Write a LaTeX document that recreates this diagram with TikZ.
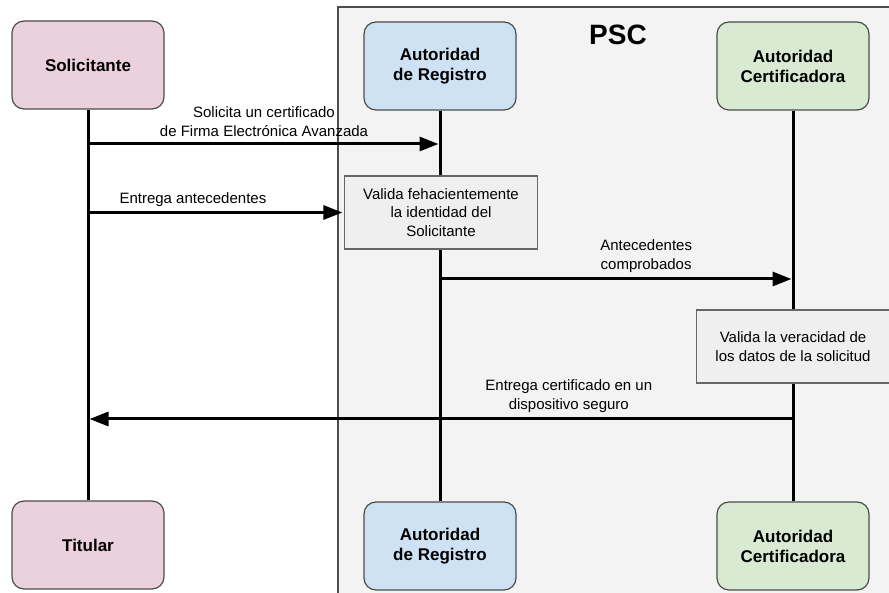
\documentclass[tikz,border=0pt]{standalone}
\usepackage{fontspec}
\setmainfont{Liberation Sans}
\usetikzlibrary{arrows.meta,calc,positioning}
\definecolor{solpink}{HTML}{EAD1DC}
\definecolor{regblue}{HTML}{CFE2F3}
\definecolor{certgreen}{HTML}{D9EAD3}
\definecolor{pscgray}{HTML}{F3F3F3}
\definecolor{notegray}{HTML}{EFEFEF}
\tikzstyle{actor}=[
  draw=black!70,
  font={\fontsize{17}{20}\selectfont\bfseries},
  inner sep=0pt,
  minimum height=88pt,
  minimum width=152pt,
  rectangle,
  rounded corners=12pt,
  align=center,
  line width=1.2pt,
]
\tikzstyle{note}=[
  draw=black!60,
  fill=notegray,
  font={\fontsize{15}{18.5}\selectfont},
  inner sep=0pt,
  minimum height=73pt,
  minimum width=193pt,
  rectangle,
  align=center,
  line width=1.2pt,
]
\tikzstyle{lifeline}=[
  line width=3pt,
]
\tikzstyle{msg}=[
  line width=3pt,
  shorten >=1.5pt,
  -{Triangle[length=19pt,width=14pt]},
]
\tikzstyle{msglabel}=[
  font={\fontsize{15}{18.5}\selectfont},
  align=center,
  inner sep=0pt,
]
\tikzset{
  x=1pt,
  y=-1pt,
}

\begin{document}
\begin{tikzpicture}
  \useasboundingbox (0,0) rectangle (889,593);
  %% PSC area
  \fill [pscgray] (338,7) rectangle (900,600);
  \draw [black!70, line width=1.2pt] (338,600) |- (900,7);
  \node (psc) [font={\fontsize{28}{30}\selectfont\bfseries}] at (618,35) {PSC};
  %%
  \node (solicitante) [actor, fill=solpink] at (88,65) {Solicitante};
  \node (regtop) [actor, fill=regblue] at (440,66) {Autoridad\\de Registro};
  \node (certtop) [actor, fill=certgreen] at (793,66) {Autoridad\\Certificadora};
  \node (titular) [actor, fill=solpink] at (88,545) {Titular};
  \node (regbot) [actor, fill=regblue] at (440,546) {Autoridad\\de Registro};
  \node (certbot) [actor, fill=certgreen] at (793,546) {Autoridad\\Certificadora};
  %%
  \draw [lifeline] (solicitante) -- (titular);
  \draw [lifeline] (regtop) -- (regbot);
  \draw [lifeline] (certtop) -- (certbot);
  %%
  \node (validaid) [note] at (441,212.5) {Valida fehacientemente\\la identidad del\\Solicitante};
  \node (validadatos) [note] at (793,346.5) {Valida la veracidad de\\los datos de la solicitud};
  %%
  \coordinate (row1) at (0,144);
  \coordinate (row3) at (0,279);
  \coordinate (row4) at (0,419);
  %%
  \draw [msg] (solicitante|-row1) -- node [msglabel, above=6pt] {Solicita un certificado\\de Firma Electrónica Avanzada} (regtop|-row1);
  \draw [msg] (solicitante|-validaid) -- node [msglabel, above=4pt, pos=.41] {Entrega antecedentes} (validaid);
  \draw [msg] (regtop|-row3) -- node [msglabel, above=5pt, pos=.584] {Antecedentes\\comprobados} (certtop|-row3);
  \draw [msg] (certtop|-row4) -- node [msglabel, above=5pt, pos=.318] {Entrega certificado en un\\dispositivo seguro} (solicitante|-row4);
\end{tikzpicture}
\end{document}
